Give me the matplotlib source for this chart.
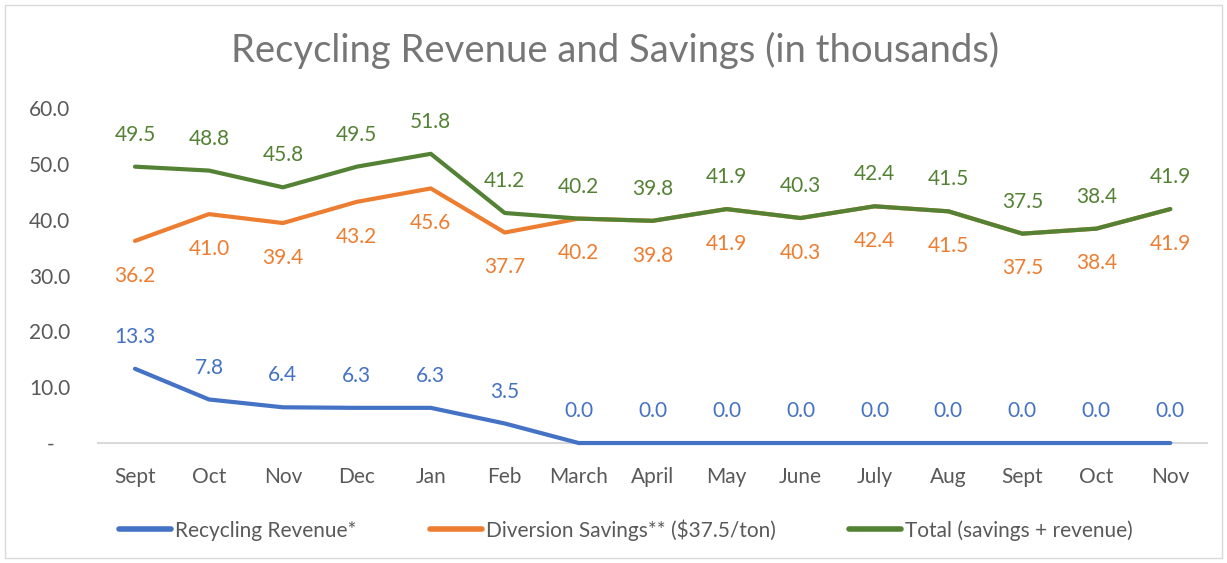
import matplotlib
matplotlib.use("Agg")
import matplotlib.pyplot as plt
from matplotlib.patches import Rectangle

plt.rcParams['font.family'] = ['Lato', 'DejaVu Sans']

# data (thousands of dollars)
months = ['Sept', 'Oct', 'Nov', 'Dec', 'Jan', 'Feb', 'March', 'April',
          'May', 'June', 'July', 'Aug', 'Sept', 'Oct', 'Nov']
revenue = [13.3, 7.8, 6.4, 6.3, 6.3, 3.5, 0.0, 0.0, 0.0, 0.0, 0.0, 0.0, 0.0, 0.0, 0.0]
savings = [36.2, 41.0, 39.4, 43.2, 45.6, 37.7, 40.2, 39.8, 41.9, 40.3, 42.4, 41.5, 37.5, 38.4, 41.9]
total = [49.5, 48.8, 45.8, 49.5, 51.8, 41.2, 40.2, 39.8, 41.9, 40.3, 42.4, 41.5, 37.5, 38.4, 41.9]
yticks = [0, 10, 20, 30, 40, 50, 60]
ytick_labels = ['-   ', '10.0', '20.0', '30.0', '40.0', '50.0', '60.0']

blue = '#4472C4'
orange = '#ED7D31'
green = '#548235'
text_grey = '#595959'
fs = 15

fig = plt.figure(figsize=(12.27, 5.63), dpi=100)
fig.patches.append(Rectangle((0.004, 0.009), 0.992, 0.982, transform=fig.transFigure,
                             fill=False, edgecolor='#d9d9d9', linewidth=1))
ax = fig.add_axes([0.0799, 0.2131, 0.904, 0.595])

x = list(range(len(months)))
ax.plot(x, revenue, color=blue, lw=3, solid_capstyle='round', clip_on=False, zorder=4,
        label='Recycling Revenue*')
ax.plot(x, savings, color=orange, lw=3, solid_capstyle='round', clip_on=False, zorder=4,
        label='Diversion Savings** ($37.5/ton)')
ax.plot(x, total, color=green, lw=3, solid_capstyle='round', clip_on=False, zorder=5,
        label='Total (savings + revenue)')

for i in x:
    ax.annotate(f'{revenue[i]:.1f}', (i, revenue[i]), xytext=(0, 23), textcoords='offset points',
                ha='center', va='center', color=blue, fontsize=fs)
    ax.annotate(f'{savings[i]:.1f}', (i, savings[i]), xytext=(0, -25), textcoords='offset points',
                ha='center', va='center', color=orange, fontsize=fs)
    ax.annotate(f'{total[i]:.1f}', (i, total[i]), xytext=(0, 23), textcoords='offset points',
                ha='center', va='center', color=green, fontsize=fs, annotation_clip=False)

ax.set_xlim(-0.5, len(months) - 0.5)
ax.set_ylim(0, 60)
ax.set_xticks(x)
ax.set_xticklabels(months)
ax.set_yticks(yticks)
ax.set_yticklabels(ytick_labels)
ax.tick_params(axis='both', length=0, labelsize=fs, labelcolor=text_grey)
ax.tick_params(axis='x', pad=17)
ax.tick_params(axis='y', pad=20)
for s in ['top', 'right', 'left']:
    ax.spines[s].set_visible(False)
ax.spines['bottom'].set_color('#d9d9d9')
ax.spines['bottom'].set_linewidth(1.5)

fig.text(0.501, 0.911, 'Recycling Revenue and Savings (in thousands)', ha='center', va='center',
         fontsize=27.5, color='#767676')

leg = fig.legend(loc='center', bbox_to_anchor=(0.51, 0.059), ncol=3, frameon=False,
                 fontsize=fs, labelcolor=text_grey, handlelength=2.5, handletextpad=0.2,
                 columnspacing=3.5)
for h in leg.get_lines():
    h.set_linewidth(4)

fig.savefig('out.png', dpi=100)
